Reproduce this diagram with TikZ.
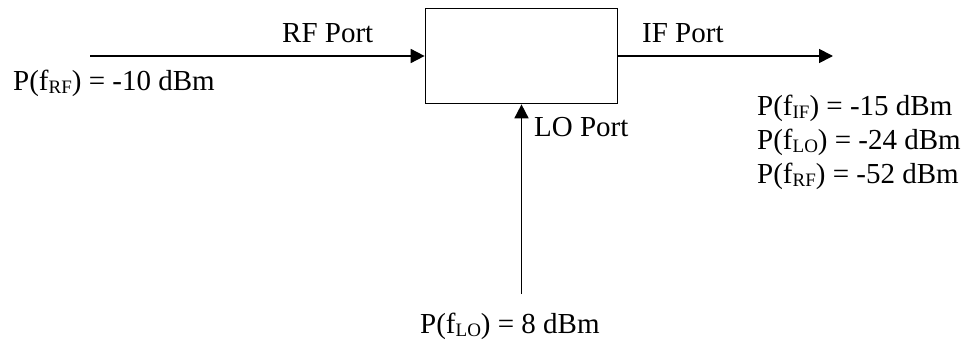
\documentclass[tikz,border=0pt]{standalone}
\usepackage{fontspec}
\setmainfont{Liberation Serif}
\usetikzlibrary{arrows.meta}

% kleiner tiefgestellter Index wie im Original
\newcommand{\portidx}[1]{\raisebox{-3pt}{\fontsize{19}{19}\selectfont #1}}

\begin{document}
\begin{tikzpicture}[x=1pt, y=1pt, >={Triangle[length=14pt, width=14pt]},
    font=\fontsize{29}{34}\selectfont,
    lbl/.style={anchor=base west, inner sep=0pt},
    sig/.style={->, line width=1.7pt}]

            \useasboundingbox (0,0) rectangle (968,341);

            % Mischer-Block
            \node[draw, line width=1.7pt, minimum width=192pt, minimum height=95pt,
                inner sep=0pt] (mixer) at (521.5,285) {};

            % freie Enden der Leitungen
            \coordinate (rfin)  at (90,285);
            \coordinate (ifout) at (833,285);
            \coordinate (loin)  at (521.5,47);

            % Leitungen mit Pfeilen
            \draw[sig] (rfin) -- (mixer.west);
            \draw[sig] (mixer.east) -- (ifout);
            \draw[sig] (loin) -- (mixer.south);

            % Portnamen
            \node[lbl] (rfport) at (282,299) {RF Port};
            \node[lbl] (ifport) at (642,299) {IF Port};
            \node[lbl] (loport) at (534,205) {LO Port};

            % Eingangsleistungen
            \node[lbl] (rfpow) at (13,251) {P(f\portidx{RF}) = -10 dBm};
            \node[lbl] (lopow) at (420,8) {P(f\portidx{LO}) = 8 dBm};

            % Ausgangsleistungen am IF-Port
            \node[lbl] (outif) at (757,226) {P(f\portidx{IF}) = -15 dBm};
            \node[lbl] (outlo) at (757,192) {P(f\portidx{LO}) = -24 dBm};
            \node[lbl] (outrf) at (757,158) {P(f\portidx{RF}) = -52 dBm};

        \end{tikzpicture}
\end{document}
